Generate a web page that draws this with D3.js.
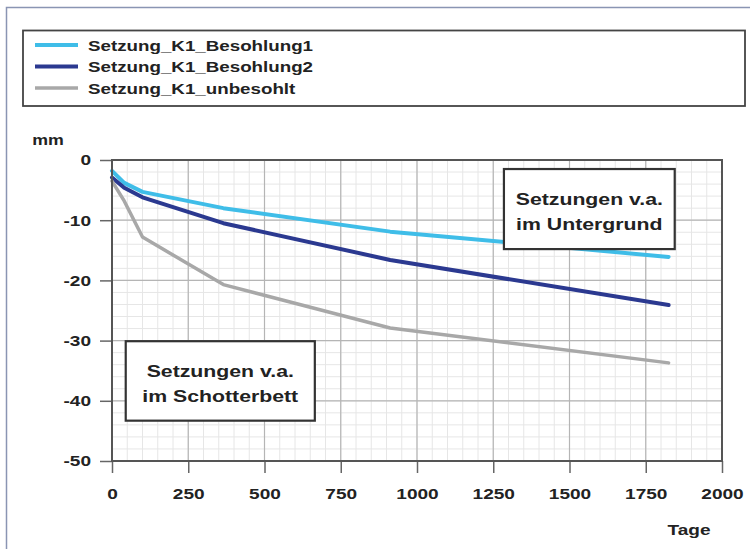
<!DOCTYPE html>
<html>
<head>
<meta charset="utf-8">
<script src="https://cdn.jsdelivr.net/npm/d3@7"></script>
<style>
  html, body { margin: 0; padding: 0; background: #fff; }
  svg { display: block; }
  text { font-family: "Liberation Sans", Arial, sans-serif; font-weight: bold; fill: #222; }
</style>
</head>
<body>
<svg id="chart" width="750" height="549"></svg>
<script>
// ---- data ----
const days = [0, 40, 100, 365, 912, 1825];
const besohlung1 = [-1.8, -3.8, -5.3, -8.0, -11.9, -16.1];
const besohlung2 = [-2.9, -4.6, -6.2, -10.5, -16.6, -24.1];
const unbesohlt  = [-3.5, -6.8, -12.8, -20.7, -27.9, -33.7];
const seriesNames = ["Setzung_K1_Besohlung1", "Setzung_K1_Besohlung2", "Setzung_K1_unbesohlt"];
const xTicks = [0, 250, 500, 750, 1000, 1250, 1500, 1750, 2000];
const yTicks = [0, -10, -20, -30, -40, -50];
const annotations = [
  { lines: ["Setzungen v.a.", "im Untergrund"], x0: 1285, x1: 1845, y0: -1.5, y1: -14.8 },
  { lines: ["Setzungen v.a.", "im Schotterbett"], x0: 45, x1: 665, y0: -30.1, y1: -43.3 }
];

const colors = ["#3fbde8", "#2b3990", "#a8a8a8"];
const widths = [4, 4, 3.5];
const K = 1.27; // horizontal text stretch of the original

const svg = d3.select("#chart");
function stretch(sel, k) {
  sel.each(function () {
    const L = this.getComputedTextLength();
    this.setAttribute("textLength", L * k);
    this.setAttribute("lengthAdjust", "spacingAndGlyphs");
  });
}

// outer frame (top & left)
svg.append("path").attr("d", "M6.5,549 V7.5 H750")
  .attr("fill", "none").attr("stroke", "#8a95b3").attr("stroke-width", 1.5);

// legend
const lg = svg.append("g");
lg.append("rect").attr("x", 23).attr("y", 30.5).attr("width", 722).attr("height", 75.5)
  .attr("fill", "#fff").attr("stroke", "#444").attr("stroke-width", 1.8);
seriesNames.forEach((n, i) => {
  const yy = 45 + i * 21.5;
  lg.append("line").attr("x1", 35).attr("x2", 78).attr("y1", yy).attr("y2", yy)
    .attr("stroke", colors[i]).attr("stroke-width", widths[i]);
  lg.append("text").attr("x", 88).attr("y", yy + 5.5).style("font-size", "15px").text(n)
    .call(stretch, 1.25);
});

// scales
const x = d3.scaleLinear().domain([0, 2000]).range([112, 722]);
const y = d3.scaleLinear().domain([0, -50]).range([160, 461]);

// grid
const g = svg.append("g");
g.selectAll(".vminor").data(d3.range(0, 2001, 50)).join("line")
  .attr("x1", d => x(d)).attr("x2", d => x(d)).attr("y1", y(0)).attr("y2", y(-50))
  .attr("stroke", "#e6e6e6").attr("stroke-width", 1);
g.selectAll(".hminor").data(d3.range(0, -51, -2)).join("line")
  .attr("y1", d => y(d)).attr("y2", d => y(d)).attr("x1", x(0)).attr("x2", x(2000))
  .attr("stroke", "#e6e6e6").attr("stroke-width", 1);
g.selectAll(".vmajor").data(xTicks).join("line")
  .attr("x1", d => x(d)).attr("x2", d => x(d)).attr("y1", y(0)).attr("y2", y(-50))
  .attr("stroke", "#b5b5b5").attr("stroke-width", 1.2);
g.selectAll(".hmajor").data(yTicks).join("line")
  .attr("y1", d => y(d)).attr("y2", d => y(d)).attr("x1", x(0)).attr("x2", x(2000))
  .attr("stroke", "#b5b5b5").attr("stroke-width", 1.2);

// axes
const fmt = d => String(d);
const ax = svg.append("g").attr("transform", `translate(0,${y(-50)})`)
  .call(d3.axisBottom(x).tickValues(xTicks).tickSize(12).tickPadding(15).tickFormat(fmt));
const ay = svg.append("g").attr("transform", `translate(${x(0)},0)`)
  .call(d3.axisLeft(y).tickValues(yTicks).tickSize(12).tickPadding(9).tickFormat(fmt));
[ax, ay].forEach(a => {
  a.select(".domain").remove();
  a.selectAll(".tick line").attr("stroke", "#666").attr("stroke-width", 1.5);
  a.selectAll(".tick text").attr("fill", "#222").style("font-size", "15px")
    .style("font-family", "'Liberation Sans', Arial, sans-serif").style("font-weight", "bold")
    .call(stretch, K);
});

// lines
const line = d3.line().x(d => x(d[0])).y(d => y(d[1]));
[besohlung1, besohlung2, unbesohlt].forEach((vals, i) => {
  svg.append("path").datum(days.map((d, j) => [d, vals[j]]))
    .attr("d", line).attr("fill", "none").attr("stroke", colors[i])
    .attr("stroke-width", widths[i]).attr("stroke-linejoin", "round").attr("stroke-linecap", "round");
});

// plot frame
svg.append("rect").attr("x", x(0)).attr("y", y(0)).attr("width", x(2000) - x(0)).attr("height", y(-50) - y(0))
  .attr("fill", "none").attr("stroke", "#555").attr("stroke-width", 2);

// annotation boxes
annotations.forEach(a => {
  const bx = x(a.x0), by = y(a.y0), bw = x(a.x1) - x(a.x0), bh = y(a.y1) - y(a.y0);
  svg.append("rect").attr("x", bx).attr("y", by).attr("width", bw).attr("height", bh)
    .attr("fill", "#fff").attr("stroke", "#333").attr("stroke-width", 2.2);
  a.lines.forEach((t, i) => {
    svg.append("text").attr("x", bx + bw / 2).attr("y", by + bh / 2 - 4 + i * 25)
      .attr("text-anchor", "middle").style("font-size", "17px").text(t)
      .call(stretch, 1.25);
  });
});

// axis titles
svg.append("text").attr("x", 48).attr("y", 145).attr("text-anchor", "middle")
  .style("font-size", "14px").text("mm").call(stretch, K);
svg.append("text").attr("x", 689).attr("y", 535).attr("text-anchor", "middle")
  .style("font-size", "15px").text("Tage").call(stretch, K);
</script>
</body>
</html>
